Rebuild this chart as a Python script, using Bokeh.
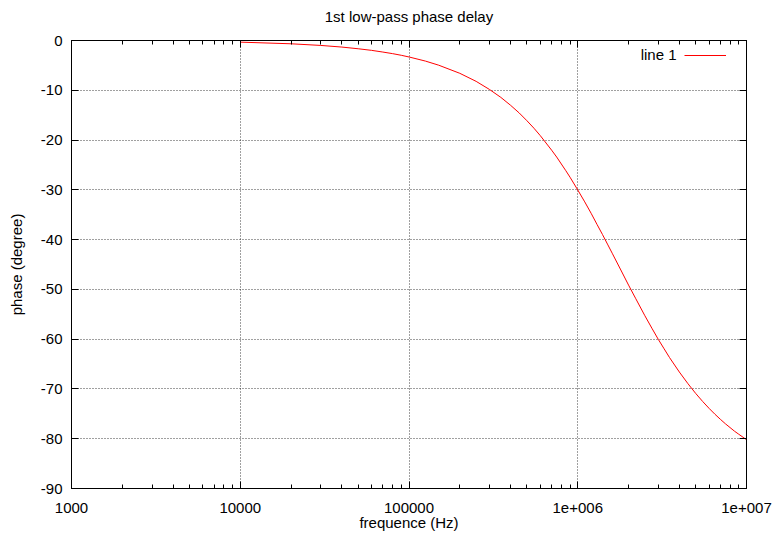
from bokeh.plotting import figure
from bokeh.models import FixedTicker, LogAxis, LinearAxis, Range1d, Legend, LegendItem, Label
from bokeh.embed import file_html
from bokeh.resources import INLINE

# data
freq = [1e4, 2e4, 3e4, 4e4, 5e4, 6e4, 7e4, 8e4, 9e4, 1e5, 1.25e5, 1.5e5, 2e5, 2.5e5,
        3e5, 3.5e5, 4e5, 4.5e5, 5e5, 5.5e5, 6e5, 7e5, 7.5e5, 8.5e5, 9e5,
        1e6, 1.1e6, 1.2e6, 1.3e6, 1.4e6, 1.5e6, 1.6e6, 1.8e6, 2e6, 2.2e6, 2.5e6,
        2.75e6, 3e6, 3.25e6, 3.5e6, 4e6, 4.5e6, 5e6, 5.5e6, 6e6, 6.5e6,
        7e6, 7.5e6, 8.5e6, 9e6, 1e7]
phase = [-0.33, -0.66, -0.99, -1.32, -1.66, -1.98, -2.32, -2.64, -2.97, -3.31,
         -4.13, -4.96, -6.59, -8.21, -9.84, -11.42, -13.02, -14.56, -16.12, -17.62,
         -19.12, -22.03, -23.41, -26.16, -27.46,
         -30.03, -32.42, -34.71, -36.93, -38.95, -40.9, -42.73, -46.1, -49.14, -51.78,
         -55.3, -57.8, -60.03, -61.94, -63.7, -66.6, -68.95, -70.9, -72.52, -73.9,
         -75.08, -76.1, -77.0, -78.5, -79.1, -80.2]

x_ticks = [1e3, 1e4, 1e5, 1e6, 1e7]
x_labels = ["1000", "10000", "100000", "1e+006", "1e+007"]
x_minor = [m * d for d in [1e3, 1e4, 1e5, 1e6] for m in range(2, 10)]
y_ticks = [-90, -80, -70, -60, -50, -40, -30, -20, -10, 0]
y_labels = ["-90", "-80", "-70", "-60", "-50", "-40", "-30", "-20", "-10", "0"]
series_name = "line 1"
title_text = "1st low-pass phase delay"

FONT = "Liberation Sans"
FS = "15px"

p = figure(width=775, height=540, x_axis_type="log", output_backend="svg",
           toolbar_location=None, x_range=Range1d(1e3, 1e7), y_range=Range1d(-90, 0),
           min_border_left=71, min_border_right=29, min_border_top=40, min_border_bottom=52)

p.outline_line_color = "black"
p.outline_line_width = 1
p.outline_line_alpha = 1

r = p.line(freq, phase, line_color="#ff0000", line_width=1)

def style_axis(ax, ticker, labels=True):
    ax.ticker = ticker
    ax.axis_line_color = "black"
    ax.major_tick_in = 7
    ax.major_tick_out = 0
    ax.minor_tick_in = 4
    ax.minor_tick_out = 0
    ax.major_tick_line_color = "black"
    ax.minor_tick_line_color = "black"
    ax.major_label_text_font = FONT
    ax.major_label_text_font_size = FS
    ax.major_label_text_color = "black"
    ax.axis_label_text_font = FONT
    ax.axis_label_text_font_size = FS
    ax.axis_label_text_font_style = "normal"
    ax.axis_label_text_color = "black"
    if not labels:
        ax.major_label_text_font_size = "0px"
        ax.major_label_text_alpha = 0
        ax.major_label_standoff = 0

xt = FixedTicker(ticks=x_ticks, minor_ticks=x_minor)
yt = FixedTicker(ticks=y_ticks, minor_ticks=[])

xa = p.xaxis[0]
style_axis(xa, xt)
xa.major_label_overrides = {t: l for t, l in zip(x_ticks, x_labels)}
xa.axis_label = "frequence (Hz)"
xa.major_label_standoff = 14
xa.axis_label_standoff = -2

ya = p.yaxis[0]
style_axis(ya, yt)
ya.major_label_overrides = {t: l for t, l in zip(y_ticks, y_labels)}
ya.axis_label = "phase (degree)"
ya.major_label_standoff = 9
ya.axis_label_standoff = 13

# mirrored top axis; it also carries the chart title, centred over the frame
top = LogAxis()
style_axis(top, FixedTicker(ticks=x_ticks, minor_ticks=x_minor), labels=False)
top.major_label_overrides = {t: "" for t in x_ticks}
top.axis_label = title_text
top.axis_label_standoff = 16
p.add_layout(top, "above")

right = LinearAxis()
style_axis(right, FixedTicker(ticks=y_ticks, minor_ticks=[]), labels=False)
right.major_label_overrides = {t: "" for t in y_ticks}
p.add_layout(right, "right")

p.xgrid.ticker = xt
p.ygrid.ticker = yt
for g in (p.xgrid[0], p.ygrid[0]):
    g.grid_line_color = "black"
    g.grid_line_alpha = 0.75
    g.grid_line_dash = "1 2"
    g.grid_line_width = 1

# legend: sample line (gnuplot style, text to the left of the sample)
legend = Legend(items=[LegendItem(label=" ", renderers=[r])],
                location="top_right", orientation="vertical")
legend.border_line_alpha = 0
legend.background_fill_alpha = 0
legend.label_text_font = FONT
legend.label_text_font_size = FS
legend.glyph_width = 42
legend.glyph_height = 12
legend.label_height = 12
legend.label_width = 0
legend.label_standoff = 11
legend.margin = 9
legend.padding = 0
p.add_layout(legend, "center")

lbl = Label(x=605, y=434, x_units="screen", y_units="screen", text=series_name,
            text_align="right", text_baseline="middle", text_font=FONT,
            text_font_size=FS, text_color="black")
p.add_layout(lbl)

open("out.html", "w").write(file_html(p, INLINE))
